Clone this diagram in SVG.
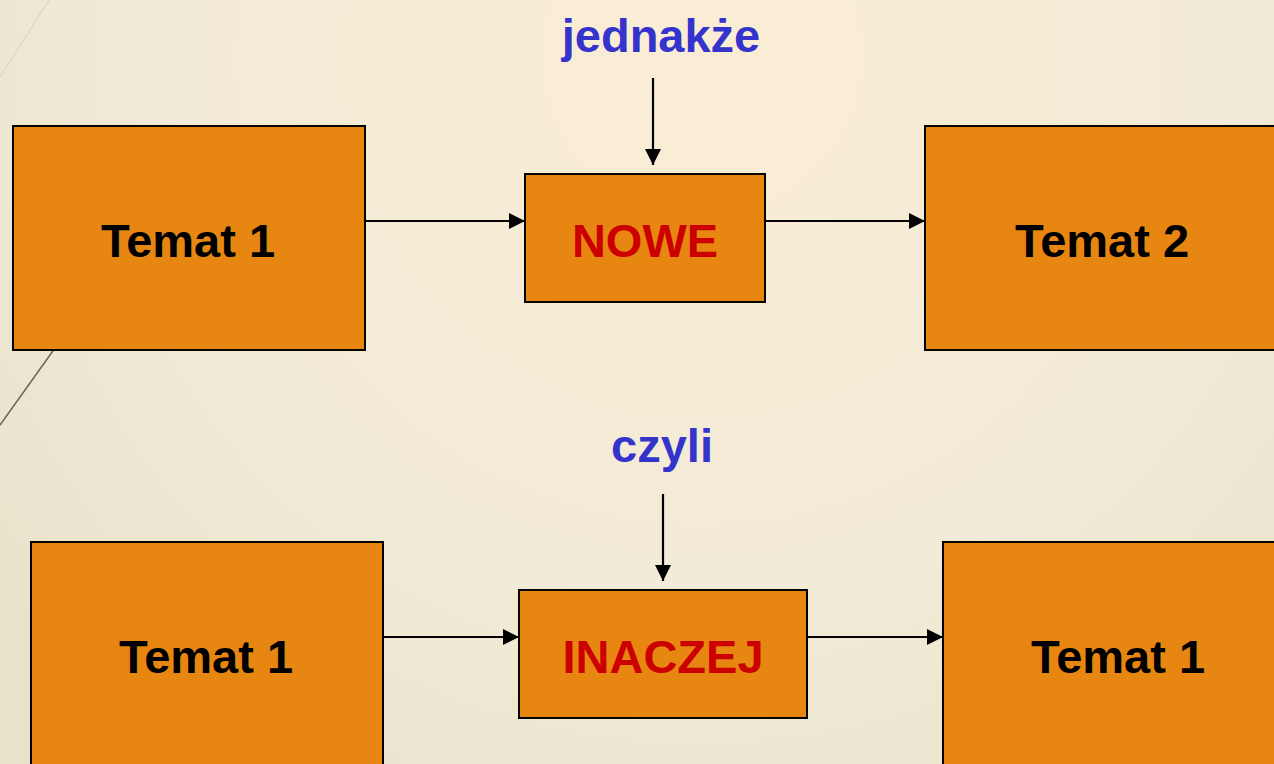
<svg xmlns="http://www.w3.org/2000/svg" width="1274" height="764" viewBox="0 0 1274 764">
  <defs>
    <radialGradient id="bg" cx="700" cy="60" r="900" gradientUnits="userSpaceOnUse">
      <stop offset="0" stop-color="#fbedd5"/>
      <stop offset="0.6" stop-color="#f2ebd7"/>
      <stop offset="1" stop-color="#e8e2cb"/>
    </radialGradient>
    <marker id="arrow" markerUnits="userSpaceOnUse" markerWidth="16" markerHeight="16" viewBox="0 0 16 16" refX="16" refY="8" orient="auto">
      <path d="M0,0 L16,8 L0,16 Z" fill="#000"/>
    </marker>
    <style>
      .box { fill: #e88612; stroke: #000; stroke-width: 2; }
      .label { font-family: "Liberation Sans", Arial, sans-serif; font-weight: bold; font-size: 47px; text-anchor: middle; }
      .dark { fill: #000; }
      .red { fill: #cc0000; }
      .blue { fill: #3434cc; }
      .conn { stroke: #000; stroke-width: 2.2; fill: none; marker-end: url(#arrow); }
    </style>
  </defs>

  <!-- background -->
  <rect x="0" y="0" width="1274" height="764" fill="url(#bg)"/>
  <!-- decorative diagonal strokes at the left edge -->
  <line x1="0" y1="77" x2="49" y2="0" stroke="#d3d0bd" stroke-width="1"/>
  <line x1="0" y1="425" x2="100" y2="285" stroke="#5f6b4f" stroke-width="1.5"/>

  <g id="connectors">
    <line class="conn" x1="653" y1="78" x2="653" y2="165"/>
    <line class="conn" x1="366" y1="221" x2="525" y2="221"/>
    <line class="conn" x1="766" y1="221" x2="925" y2="221"/>
    <line class="conn" x1="663" y1="494" x2="663" y2="581"/>
    <line class="conn" x1="384" y1="637" x2="519" y2="637"/>
    <line class="conn" x1="808" y1="637" x2="943" y2="637"/>
  </g>

  <g id="label-jednakze">
    <text class="label blue" x="661" y="52">jednakże</text>
  </g>
  <g id="label-czyli">
    <text class="label blue" x="662" y="462">czyli</text>
  </g>

  <g id="top-temat1">
    <rect class="box" x="13" y="126" width="352" height="224"/>
    <text class="label dark" x="188" y="257">Temat 1</text>
  </g>
  <g id="top-nowe">
    <rect class="box" x="525" y="174" width="240" height="128"/>
    <text class="label red" x="645" y="257">NOWE</text>
  </g>
  <g id="top-temat2">
    <rect class="box" x="925" y="126" width="360" height="224"/>
    <text class="label dark" x="1102" y="257">Temat 2</text>
  </g>

  <g id="bottom-temat1">
    <rect class="box" x="31" y="542" width="352" height="240"/>
    <text class="label dark" x="206" y="673">Temat 1</text>
  </g>
  <g id="bottom-inaczej">
    <rect class="box" x="519" y="590" width="288" height="128"/>
    <text class="label red" x="663" y="673">INACZEJ</text>
  </g>
  <g id="bottom-temat1b">
    <rect class="box" x="943" y="542" width="342" height="240"/>
    <text class="label dark" x="1118" y="673">Temat 1</text>
  </g>
</svg>
